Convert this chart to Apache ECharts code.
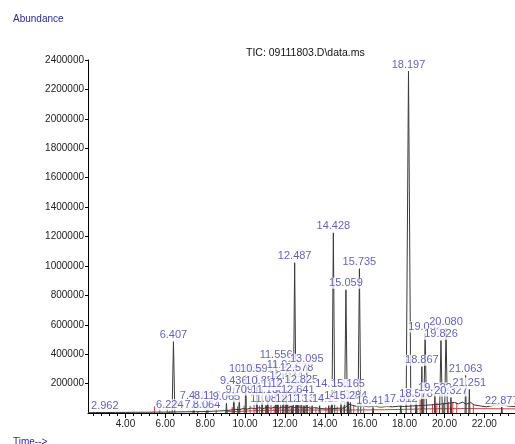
<!DOCTYPE html>
<html>
<head>
<meta charset="utf-8">
<script src="https://cdn.jsdelivr.net/npm/echarts@6/dist/echarts.min.js"></script>
<style>html,body{margin:0;padding:0;background:#fff}#c{width:515px;height:444px}</style>
</head>
<body>
<div id="c"></div>
<script>
// Retention time (min), abundance at apex
const peaks = [
  [2.962, 6000], [6.224, 12000], [6.407, 485000], [7.418, 72000], [7.652, 12000],
  [8.064, 12000], [8.112, 72000], [9.065, 66000], [9.436, 175000], [9.709, 112000],
  [10.035, 258000], [10.591, 258000], [10.857, 175000], [11.083, 50000], [11.138, 112000],
  [11.556, 350000], [11.648, 150000], [11.912, 282000], [12.074, 205000], [12.124, 150000],
  [12.352, 50000], [12.487, 1022000], [12.578, 262000], [12.641, 112000], [12.825, 180000],
  [12.953, 50000], [13.095, 322000], [13.362, 50000], [13.741, 50000], [14.196, 50000],
  [14.358, 150000], [14.428, 1225000], [14.812, 72000], [15.059, 838000], [15.165, 150000],
  [15.284, 72000], [15.735, 981000], [16.418, 38000], [17.812, 50000], [18.197, 2325000],
  [18.578, 88000], [18.867, 315000], [19.032, 540000], [19.522, 126000], [19.826, 492000],
  [20.080, 573000], [20.327, 105000], [21.063, 255000], [21.251, 160000], [22.877, 40000]
];
// Chromatogram baseline readings [time, abundance]
const baseline = [
  [2.12, 2000], [2.5, 3000], [3.0, 3000], [3.5, 4000], [4.0, 4000], [4.5, 5000], [5.0, 5000],
  [5.5, 6000], [6.0, 6000], [6.5, 7000], [7.0, 8000], [7.5, 9000], [8.0, 10000], [8.5, 13000],
  [9.0, 16000], [9.3, 20000], [9.5, 25000], [9.7, 22000], [9.9, 30000], [10.1, 26000],
  [10.3, 34000], [10.5, 28000], [10.7, 36000], [10.9, 30000], [11.1, 38000], [11.3, 32000],
  [11.5, 40000], [11.7, 33000], [11.9, 42000], [12.1, 34000], [12.3, 44000], [12.5, 36000],
  [12.7, 42000], [12.9, 34000], [13.1, 40000], [13.3, 32000], [13.5, 36000], [13.8, 30000],
  [14.1, 28000], [14.4, 30000], [14.7, 32000], [15.0, 34000], [15.2, 60000], [15.4, 52000],
  [15.6, 45000], [15.9, 48000], [16.2, 42000], [16.5, 46000], [16.8, 40000], [17.1, 44000],
  [17.4, 42000], [17.7, 46000], [18.0, 44000], [18.4, 48000], [18.7, 50000], [19.0, 52000],
  [19.3, 55000], [19.6, 58000], [19.9, 62000], [20.2, 66000], [20.5, 72000], [20.7, 62000],
  [20.9, 74000], [21.1, 60000], [21.3, 72000], [21.5, 55000], [21.8, 48000], [22.1, 42000],
  [22.4, 50000], [22.7, 56000], [23.0, 52000], [23.3, 46000], [23.54, 44000]
];
// Integration marks (red)
const redMarks = [
  [5.45, 45000], [5.72, 30000], [6.10, 30000], [8.55, 30000], [9.35, 40000], [9.62, 45000],
  [9.95, 50000], [10.25, 50000], [10.45, 55000], [10.72, 50000], [11.02, 55000], [11.30, 55000],
  [11.46, 50000], [11.78, 55000], [12.02, 55000], [12.25, 50000], [12.70, 55000], [13.00, 50000],
  [13.25, 45000], [13.55, 40000], [14.05, 40000], [14.30, 45000], [14.62, 45000], [14.95, 50000],
  [15.45, 50000], [15.95, 40000], [18.62, 50000], [18.78, 90000], [18.93, 140000], [19.40, 60000],
  [19.62, 70000], [19.75, 70000], [19.95, 70000], [20.20, 75000], [20.42, 75000], [20.62, 70000],
  [21.45, 60000]
];
const redBase = [[9.0, 8000], [11, 18000], [13, 20000], [15, 20000], [17, 22000], [19, 28000], [21, 30000], [23.54, 28000]];
const majorTicks = [4, 6, 8, 10, 12, 14, 16, 18, 20, 22];
const yTicks = [200000, 400000, 600000, 800000, 1000000, 1200000, 1400000, 1600000, 1800000, 2000000, 2200000, 2400000];

const minorTicks = [];
for (let k = 1; k <= 53; k++) {
  const v = Math.round((2.0 + 0.4 * k) * 10) / 10;
  if (v < 23.54 && majorTicks.indexOf(v) < 0) minorTicks.push(v);
}

function halfWidth(h) { return h > 2000000 ? 0.12 : (h > 400000 ? 0.07 : 0.03); }
const peakLine = [];
peaks.forEach(p => {
  const w = halfWidth(p[1]);
  peakLine.push([p[0] - w, 0], [p[0], p[1]], [p[0] + w, 0], [p[0] + w + 0.001, '-']);
});
const redLine = [];
redMarks.forEach(m => { redLine.push([m[0], 0], [m[0], m[1]], [m[0] + 0.001, '-']); });

const FONT = 'Liberation Sans, Arial, sans-serif';
const chart = echarts.init(document.getElementById('c'), null, {renderer: 'canvas'});
chart.setOption({
  animation: false,
  backgroundColor: '#fff',
  grid: {left: 88, right: 0, top: 60, bottom: 31},
  graphic: [
    {type: 'text', left: 13, top: 14, style: {text: 'Abundance', fill: '#2b2b9c', font: '10px ' + FONT}},
    {type: 'text', left: 246, top: 48, style: {text: 'TIC: 09111803.D\\data.ms', fill: '#111', font: '10.5px ' + FONT}},
    {type: 'text', left: 13, top: 437, style: {text: 'Time-->', fill: '#2b2b9c', font: '10px ' + FONT}}
  ],
  xAxis: [
    {
      type: 'value', min: 2.12, max: 23.54,
      axisLine: {show: true, lineStyle: {color: '#000', width: 1}},
      axisTick: {show: true, customValues: majorTicks, length: 5, lineStyle: {color: '#000'}},
      axisLabel: {customValues: majorTicks, formatter: v => v.toFixed(2), fontSize: 10, color: '#222', margin: 6, fontFamily: FONT},
      splitLine: {show: false}
    },
    {
      type: 'value', min: 2.12, max: 23.54, position: 'bottom',
      axisLine: {show: false},
      axisTick: {show: true, customValues: minorTicks, length: 3, lineStyle: {color: '#000'}},
      axisLabel: {show: false},
      splitLine: {show: false}
    }
  ],
  yAxis: {
    type: 'value', min: 0, max: 2400000, interval: 200000,
    axisLine: {show: true, lineStyle: {color: '#000', width: 1}},
    axisTick: {show: true, length: 3, lineStyle: {color: '#000'}},
    axisLabel: {showMinLabel: false, formatter: v => String(v), fontSize: 10, color: '#222', margin: 4, fontFamily: FONT},
    splitLine: {show: false}
  },
  series: [
    {type: 'line', data: redBase, showSymbol: false, symbol: 'none', lineStyle: {color: '#c84040', width: 1}, z: 1, silent: true},
    {type: 'line', data: redLine, showSymbol: false, symbol: 'none', connectNulls: false, lineStyle: {color: '#c84040', width: 1}, z: 1, silent: true},
    {type: 'line', data: baseline, showSymbol: false, symbol: 'none', lineStyle: {color: '#333', width: 1}, z: 2, silent: true},
    {type: 'line', data: peakLine, showSymbol: false, symbol: 'none', connectNulls: false, lineStyle: {color: '#3a3a3a', width: 1}, z: 3, silent: true},
    {
      type: 'scatter', data: peaks, symbolSize: 0, z: 10, silent: true,
      label: {
        show: true, position: 'top', distance: 1,
        formatter: p => p.value[0].toFixed(3),
        fontSize: 11, fontFamily: FONT, color: '#3a3aa8',
        backgroundColor: '#fff', padding: [0, 0, 0, 0], lineHeight: 11
      }
    }
  ]
});
</script>
</body>
</html>
